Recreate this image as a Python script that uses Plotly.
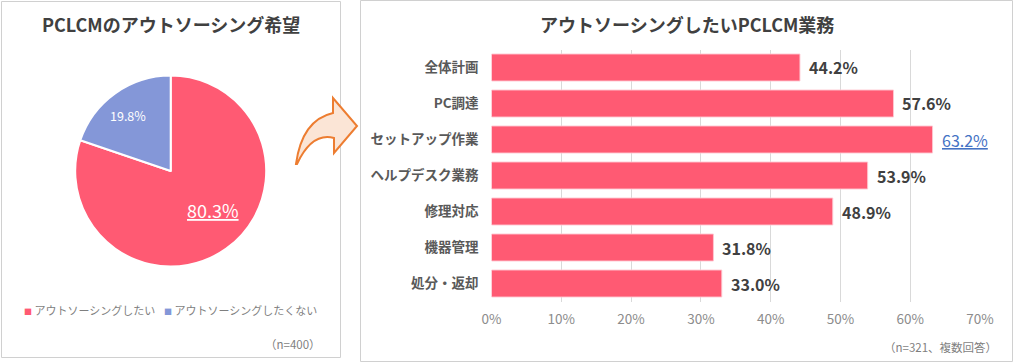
import plotly.graph_objects as go

W, H = 1015, 364
FONT = "Noto Sans CJK JP"

# ---- data ----
pie_labels = ["アウトソーシングしたい", "アウトソーシングしたくない"]
pie_values = [80.3, 19.8]
pie_colors = ["#FF5A73", "#8497D8"]

bar_categories = ["全体計画", "PC調達", "セットアップ作業", "ヘルプデスク業務", "修理対応", "機器管理", "処分・返却"]
bar_values = [44.2, 57.6, 63.2, 53.9, 48.9, 31.8, 33.0]
x_ticks = [0, 10, 20, 30, 40, 50, 60, 70]

left_title = "PCLCMのアウトソーシング希望"
right_title = "アウトソーシングしたいPCLCM業務"
left_note = "（n=400）"
right_note = "（n=321、複数回答）"


def px(x):
    return x / W


def py(y):
    return 1 - y / H


fig = go.Figure()

# Pie
pcx, pcy, r = 170.7, 171.0, 95.5
fig.add_trace(go.Pie(
    labels=pie_labels, values=pie_values,
    marker=dict(colors=pie_colors, line=dict(color="white", width=2)),
    sort=False, direction="clockwise", rotation=0,
    textinfo="none", hoverinfo="label+percent",
    domain=dict(x=[px(pcx - r), px(pcx + r)], y=[py(pcy + r), py(pcy - r)]),
    showlegend=False,
))

# Bars
fig.add_trace(go.Bar(
    x=bar_values, y=bar_categories, orientation="h",
    marker=dict(color="#FF5A73", line=dict(color="rgba(255,200,210,0.9)", width=1)),
    width=0.75, showlegend=False, xaxis="x", yaxis="y",
))

x0, x70 = 491.5, 980.0
ytop, ybot = 49.5, 301.5

fig.update_layout(
    width=W, height=H,
    margin=dict(l=0, r=0, t=0, b=0, pad=0),
    paper_bgcolor="white", plot_bgcolor="white",
    font=dict(family=FONT, color="#404040"),
    showlegend=False,
    xaxis=dict(
        domain=[px(x0), px(x70)], range=[0, 70],
        tickvals=x_ticks, ticktext=[f"{t}%" for t in x_ticks],
        showgrid=True, gridcolor="#D9D9D9", gridwidth=1,
        zeroline=False, showline=False, ticks="", automargin=False,
        tickfont=dict(size=13.5, color="#8C8C8C", family=FONT),
        ticklabelstandoff=8, fixedrange=True,
    ),
    yaxis=dict(
        domain=[py(ybot), py(ytop)],
        categoryorder="array", categoryarray=bar_categories,
        autorange="reversed", automargin=False,
        showgrid=False, zeroline=False, showline=False, ticks="",
        tickfont=dict(size=13.5, color="#595959", family=FONT, weight="bold"),
        ticklabelstandoff=12, fixedrange=True,
    ),
    bargap=0.25,
)

annotations = []


def ann(x, y, text, size, color, xanchor="center", weight="normal", under=False):
    annotations.append(dict(
        x=px(x), y=py(y), xref="paper", yref="paper", text=text,
        xanchor=xanchor, yanchor="middle", showarrow=False,
        font=dict(size=size, color=color, family=FONT, weight=weight,
                  lineposition="under" if under else "none"),
    ))


# Titles
ann(171, 24, left_title, 18, "#404040", weight="bold")
ann(687, 24, right_title, 18, "#404040", weight="bold")
# Notes
ann(323, 344, left_note, 11.5, "#7F7F7F", xanchor="right")
ann(999, 347, right_note, 11.5, "#7F7F7F", xanchor="right")
# Pie labels
ann(213, 210, f"{pie_values[0]:.1f}%", 18, "white", under=True)
ann(128, 115, f"{pie_values[1]:.1f}%", 12.5, "white")
# Pie legend
leg_x = [22, 162]
for lx, lab, col in zip(leg_x, pie_labels, pie_colors):
    ann(lx, 310, f"<span style='color:{col};font-size:8px'>■</span> {lab}", 11, "#7F7F7F", xanchor="left")

# Bar value labels
for cat, v in zip(bar_categories, bar_values):
    hi = v == max(bar_values)
    annotations.append(dict(
        x=v, y=cat, xref="x", yref="y", text=f"{v:.1f}%", xanchor="left", yanchor="middle", xshift=7,
        showarrow=False,
        font=dict(size=16, color="#4472C4" if hi else "#404040", family=FONT,
                  weight="normal" if hi else "bold", lineposition="under" if hi else "none"),
    ))
fig.update_layout(annotations=annotations)

# Panel borders
shapes = [
    dict(type="rect", xref="paper", yref="paper", x0=px(1.5), x1=px(340.5), y0=py(357.5), y1=py(1.5),
         line=dict(color="#D0D0D0", width=1)),
    dict(type="rect", xref="paper", yref="paper", x0=px(360.5), x1=px(1012.5), y0=py(361.5), y1=py(0.5),
         line=dict(color="#D0D0D0", width=1)),
]

# Curved arrow
pts = [("M", [(296, 164)]), ("Q", [(302, 120), (333, 113)]), ("L", [(333, 98)]), ("L", [(357, 126)]),
       ("L", [(334, 153)]), ("L", [(334, 138)]), ("Q", [(312, 132), (297, 164)])]
path = ""
for cmd, ps in pts:
    path += cmd + " ".join(f"{px(a):.5f},{py(b):.5f}" for a, b in ps) + " "
path += "Z"
shapes.append(dict(type="path", xref="paper", yref="paper", path=path,
                   fillcolor="#FBE5D6", line=dict(color="#ED7D31", width=2)))
fig.update_layout(shapes=shapes)

fig.write_html("out.html", config={"responsive": False, "displayModeBar": False},
               post_script="document.body.style.margin='0';document.body.style.overflow='hidden';")
